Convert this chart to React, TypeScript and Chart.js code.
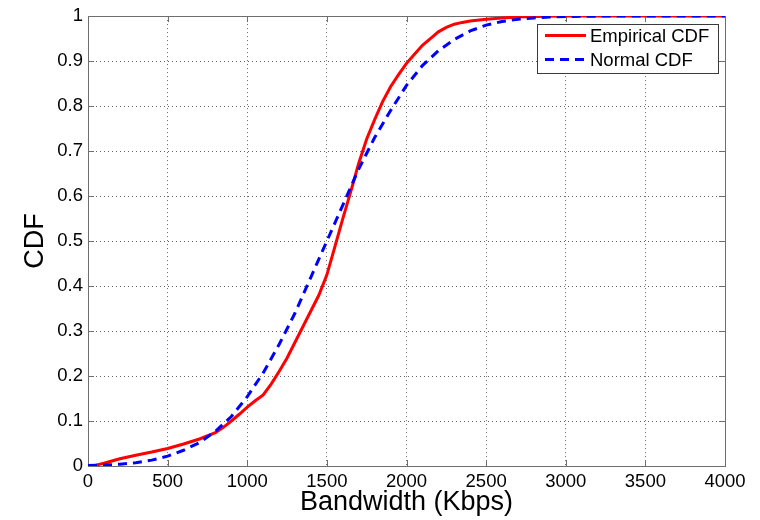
import { useEffect, useRef } from "react";
import { Chart, registerables } from "chart.js";

Chart.register(...registerables);

const seriesLabels = ["Empirical CDF", "Normal CDF"];

const empiricalX = [50, 100, 200, 300, 400, 500, 600, 700, 800, 850, 900, 950, 1000, 1050, 1100, 1150, 1200, 1250, 1300, 1350, 1400, 1450, 1500, 1550, 1600, 1650, 1700, 1750, 1800, 1850, 1900, 1950, 2000, 2050, 2100, 2150, 2200, 2250, 2300, 2350, 2400, 2500, 2600, 2700, 2800, 3000, 4000];
const empiricalY = [0.002, 0.006, 0.016, 0.024, 0.031, 0.039, 0.049, 0.06, 0.074, 0.086, 0.1, 0.115, 0.131, 0.145, 0.158, 0.182, 0.21, 0.24, 0.275, 0.31, 0.345, 0.38, 0.425, 0.487, 0.55, 0.61, 0.673, 0.727, 0.77, 0.81, 0.843, 0.87, 0.895, 0.915, 0.935, 0.95, 0.965, 0.975, 0.982, 0.986, 0.989, 0.993, 0.996, 0.998, 0.999, 1, 1];

const normalX = [0, 100, 200, 300, 400, 500, 600, 700, 800, 900, 1000, 1100, 1200, 1300, 1400, 1500, 1600, 1700, 1800, 1900, 2000, 2100, 2200, 2300, 2400, 2500, 2600, 2700, 2800, 2900, 3000, 3200, 4000];
const normalY = [0.001, 0.002, 0.004, 0.007, 0.013, 0.022, 0.035, 0.052, 0.077, 0.11, 0.154, 0.207, 0.27, 0.34, 0.42, 0.5, 0.58, 0.66, 0.73, 0.79, 0.846, 0.89, 0.923, 0.948, 0.967, 0.98, 0.988, 0.993, 0.996, 0.998, 0.999, 1, 1];

const xTicks = [0, 500, 1000, 1500, 2000, 2500, 3000, 3500, 4000];
const xTickLabels = ["0", "500", "1000", "1500", "2000", "2500", "3000", "3500", "4000"];
const yTicks = [0, 0.1, 0.2, 0.3, 0.4, 0.5, 0.6, 0.7, 0.8, 0.9, 1];
const yTickLabels = ["0", "0.1", "0.2", "0.3", "0.4", "0.5", "0.6", "0.7", "0.8", "0.9", "1"];

const FONT = "'Liberation Sans', Arial, sans-serif";

const framePlugin = {
  id: "frame",
  beforeDraw(chart: any) {
    const ctx = chart.ctx;
    ctx.save();
    ctx.fillStyle = "#ffffff";
    ctx.fillRect(0, 0, chart.width, chart.height);
    ctx.restore();
  },
  beforeDatasetsDraw(chart: any) {
    const { ctx, chartArea: a, scales } = chart;
    ctx.save();
    ctx.strokeStyle = "#6e6e6e";
    ctx.lineWidth = 1;
    ctx.setLineDash([]);
    ctx.strokeRect(Math.round(a.left) + 0.5, Math.round(a.top) + 0.5, Math.round(a.right - a.left), Math.round(a.bottom - a.top));
    const tl = 6;
    ctx.beginPath();
    xTicks.forEach((v) => {
      const x = Math.round(scales.x.getPixelForValue(v)) + 0.5;
      ctx.moveTo(x, a.bottom);
      ctx.lineTo(x, a.bottom - tl);
      ctx.moveTo(x, a.top);
      ctx.lineTo(x, a.top + tl);
    });
    yTicks.forEach((v) => {
      const y = Math.round(scales.y.getPixelForValue(v)) + 0.5;
      ctx.moveTo(a.left, y);
      ctx.lineTo(a.left + tl, y);
      ctx.moveTo(a.right, y);
      ctx.lineTo(a.right - tl, y);
    });
    ctx.stroke();
    ctx.restore();
  },
  afterDatasetsDraw(chart: any) {
    const { ctx, chartArea: a } = chart;
    const boxRight = a.right - 7;
    const boxLeft = boxRight - 181;
    const boxTop = a.top + 8;
    const boxH = 49;
    ctx.save();
    ctx.fillStyle = "#ffffff";
    ctx.fillRect(boxLeft, boxTop, boxRight - boxLeft, boxH);
    ctx.strokeStyle = "#3a3a3a";
    ctx.lineWidth = 1;
    ctx.strokeRect(Math.round(boxLeft) + 0.5, Math.round(boxTop) + 0.5, Math.round(boxRight - boxLeft), boxH);
    chart.data.datasets.forEach((ds: any, i: number) => {
      const y = boxTop + 11.5 + i * 24;
      ctx.beginPath();
      ctx.strokeStyle = ds.borderColor;
      ctx.lineWidth = ds.borderWidth;
      ctx.setLineDash(ds.borderDash || []);
      ctx.moveTo(boxLeft + 8, y);
      ctx.lineTo(boxLeft + 49, y);
      ctx.stroke();
      ctx.setLineDash([]);
      ctx.fillStyle = "#000000";
      ctx.font = `18.5px ${FONT}`;
      ctx.textBaseline = "middle";
      ctx.textAlign = "left";
      ctx.fillText(ds.label, boxLeft + 53, y + 1);
    });
    ctx.restore();
  },
};

export default function App() {
  const ref = useRef<HTMLCanvasElement | null>(null);

  useEffect(() => {
    if (!ref.current) return;
    const chart = new Chart(ref.current, {
      type: "line",
      data: {
        datasets: [
          {
            label: seriesLabels[0],
            data: empiricalX.map((x, i) => ({ x, y: empiricalY[i] })),
            borderColor: "#ff0000",
            borderWidth: 3,
            pointRadius: 0,
            tension: 0,
            order: 1,
          },
          {
            label: seriesLabels[1],
            data: normalX.map((x, i) => ({ x, y: normalY[i] })),
            borderColor: "#0000ff",
            borderWidth: 3,
            borderDash: [9, 6],
            pointRadius: 0,
            tension: 0,
            order: 0,
          },
        ],
      },
      options: {
        responsive: false,
        animation: false,
        layout: { padding: { left: 0, top: 14, right: 35, bottom: 0 } },
        plugins: { legend: { display: false }, tooltip: { enabled: false } },
        scales: {
          x: {
            type: "linear",
            min: 0,
            max: 4000,
            afterBuildTicks: (s: any) => {
              s.ticks = xTicks.map((v) => ({ value: v }));
            },
            afterFit: (s: any) => {
              s.height = 54;
            },
            ticks: {
              callback: (v: any) => xTickLabels[xTicks.indexOf(Number(v))] ?? "",
              color: "#000000",
              font: { family: FONT, size: 18.5 },
              padding: 5,
              maxRotation: 0,
              autoSkip: false,
            },
            grid: {
              color: "rgba(0,0,0,0.6)",
              lineWidth: 1,
              drawTicks: false,
            },
            border: { display: false, dash: [1, 3] },
            title: {
              display: true,
              text: "Bandwidth (Kbps)",
              color: "#000000",
              font: { family: FONT, size: 27 },
              padding: { top: 0, bottom: 1 },
            },
          },
          y: {
            type: "linear",
            min: 0,
            max: 1,
            afterBuildTicks: (s: any) => {
              s.ticks = yTicks.map((v) => ({ value: v }));
            },
            afterFit: (s: any) => {
              s.width = 88;
            },
            ticks: {
              callback: (v: any) => yTickLabels[Math.round(Number(v) * 10)] ?? "",
              color: "#000000",
              font: { family: FONT, size: 18.5 },
              padding: 5,
              autoSkip: false,
            },
            grid: {
              color: "rgba(0,0,0,0.6)",
              lineWidth: 1,
              drawTicks: false,
            },
            border: { display: false, dash: [1, 3] },
            title: {
              display: true,
              text: "CDF",
              color: "#000000",
              font: { family: FONT, size: 27 },
              padding: { top: 19, bottom: 0 },
            },
          },
        },
      },
      plugins: [framePlugin],
    });
    return () => chart.destroy();
  }, []);

  return (
    <div style={{ position: "fixed", left: 0, top: 0, width: 760, height: 520, background: "#fff" }}>
      <canvas ref={ref} width={760} height={520} style={{ display: "block" }} />
    </div>
  );
}
